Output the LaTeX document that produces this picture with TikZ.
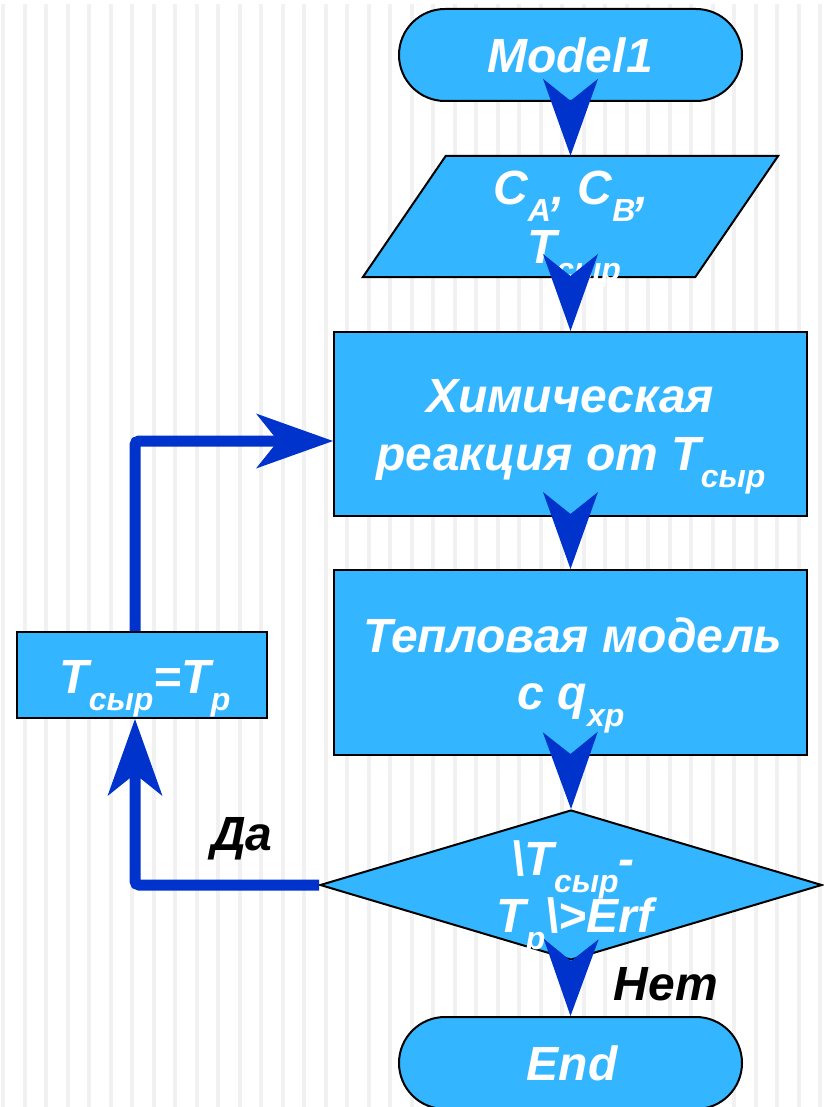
\documentclass[tikz,border=0pt]{standalone}
\usepackage{fontspec}
\setmainfont{Liberation Sans}
\usetikzlibrary{arrows.meta,shapes.geometric}
\definecolor{fillblue}{RGB}{51,182,255}
\definecolor{arrblue}{RGB}{0,51,204}
\definecolor{stripegray}{RGB}{241,241,241}
\newcommand\lw[1]{\raisebox{-17pt}{\fontsize{32}{32}\selectfont #1}}
\begin{document}
\begin{tikzpicture}[x=1pt,y=-1pt,
  box/.style={draw=black,line width=2pt,fill=fillblue,inner sep=0pt},
  txt/.style={text=white,font=\fontsize{48}{58}\selectfont\bfseries\itshape,anchor=base,inner sep=0pt},
  lbl/.style={text=black,font=\fontsize{48}{58}\selectfont\bfseries\itshape,anchor=base,inner sep=0pt},
  conn/.style={draw=arrblue,line width=11pt,-{Stealth[length=77pt,width=55pt,inset=22pt,line width=0pt]}},
  loopconn/.style={conn,rounded corners=4pt},
  stripe/.style={draw=stripegray,line width=4pt}]
\fill[white] (0,0) rectangle (823,1107);
\useasboundingbox (0,0) rectangle (823,1107);
\foreach \i in {0,...,38} \draw[stripe] (3+21.5*\i,4) -- (3+21.5*\i,1107);
% shapes
\node[box,rounded corners=46pt,minimum width=343pt,minimum height=92pt] (m) at (570.5,55) {};
\node[inner sep=0pt,minimum width=332pt,minimum height=121pt] (par) at (570.5,216.5) {};
\draw[box] ([xshift=-41.5pt]par.south west) -- ([xshift=-41.5pt]par.south east)
  -- ([xshift=41.5pt]par.north east) -- ([xshift=41.5pt]par.north west) -- cycle;
\node[box,minimum width=473pt,minimum height=184pt] (r1) at (570.5,424) {};
\node[box,minimum width=473pt,minimum height=185pt] (r2) at (570.5,662.5) {};
\node[box,diamond,minimum width=502pt,minimum height=150pt] (dia) at (571,885) {};
\node[box,rounded corners=46pt,minimum width=343pt,minimum height=92pt] (e) at (570.5,1063) {};
\node[box,minimum width=250pt,minimum height=86pt] (lb) at (142,675) {};
% texts
\node[txt] (tm) at (570,73) {Model1};
\node[txt] (tp1) at (571,205) {C\lw{A}, C\lw{B},};
\node[txt] (tp2) at (574,263) {T\lw{сыр}};
\node[txt] (tr1a) at (570,412) {Химическая};
\node[txt] (tr1b) at (571,470) {реакция от T\lw{сыр}};
\node[txt] (tr2a) at (573,652) {Тепловая модель};
\node[txt] (tr2b) at (571,709) {c q\lw{xp}};
\node[txt] (td1) at (573,875) {\textbackslash T\lw{сыр}-};
\node[txt] (td2) at (575,932) {T\lw{p}\textbackslash>Erf};
\node[txt] (tlb) at (145,693) {T\lw{сыр}=T\lw{p}};
\node[txt] (te) at (572,1080) {End};
% connectors
\draw[conn] (m.south) -- (par.north);
\draw[conn] (par.south) -- (r1.north);
\draw[conn] (r1.south) -- (r2.north);
\draw[conn] (r2.south) -- (dia.north);
\draw[conn] (dia.south) -- (e.north);
\draw[loopconn] (dia.west) -| ([xshift=-7pt]lb.south);
\draw[loopconn] ([xshift=-7pt]lb.north) |- ([yshift=-17pt]r1.west);
% labels
\node[lbl] (yes) at (242,850) {Да};
\node[lbl] (no) at (666,1000) {Нет};
\end{tikzpicture}
\end{document}
